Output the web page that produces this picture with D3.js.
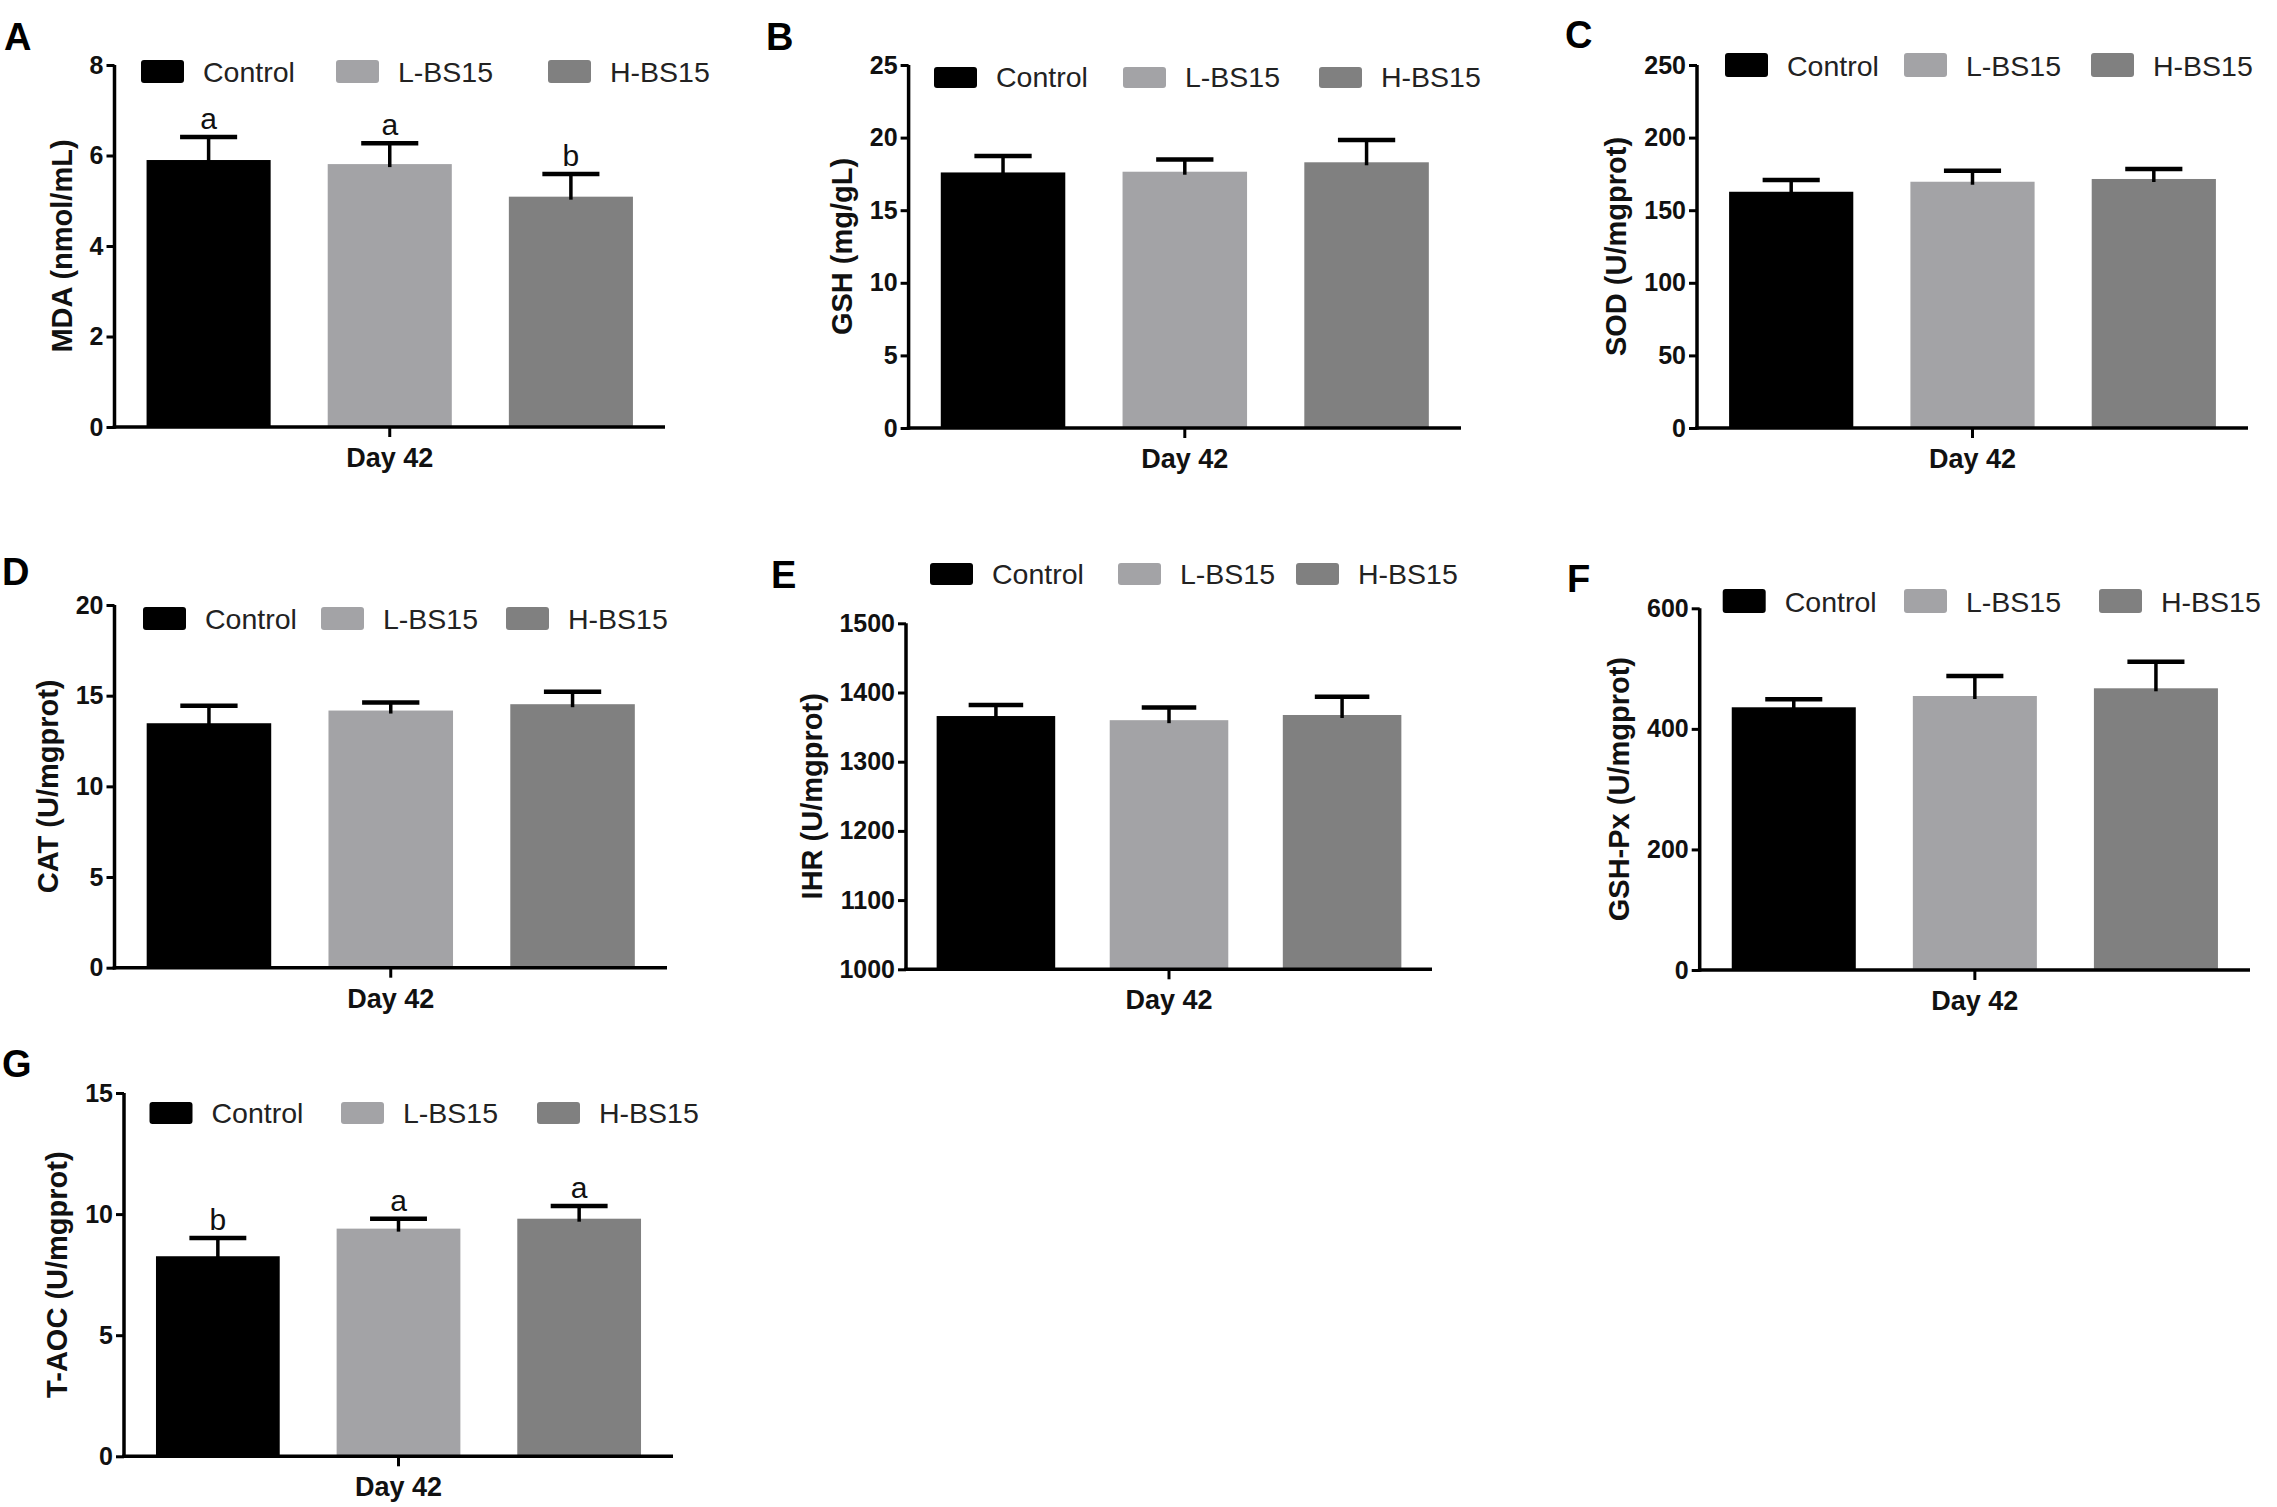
<!DOCTYPE html>
<html>
<head>
<meta charset="utf-8">
<script src="https://cdn.jsdelivr.net/npm/d3@7"></script>
<style>
  body { margin: 0; background: #fff; }
  svg { display: block; font-family: "Liberation Sans", Arial, sans-serif; }
</style>
</head>
<body>
<div id="chart"></div>
<script>
// groups
const groups = ["Control", "L-BS15", "H-BS15"];
const groupColors = ["#000000", "#a3a3a6", "#808080"];
const xLabel = "Day 42";

// A - MDA
const mdaMean = [5.9, 5.81, 5.09];
const mdaErr = [0.51, 0.46, 0.5];
const mdaLetters = ["a", "a", "b"];
const mdaTicks = [0, 2, 4, 6, 8];

// B - GSH
const gshMean = [17.6, 17.65, 18.3];
const gshErr = [1.13, 0.85, 1.53];
const gshTicks = [0, 5, 10, 15, 20, 25];

// C - SOD
const sodMean = [162.7, 169.6, 171.5];
const sodErr = [8.1, 7.6, 6.9];
const sodTicks = [0, 50, 100, 150, 200, 250];

// D - CAT
const catMean = [13.48, 14.18, 14.53];
const catErr = [0.97, 0.44, 0.69];
const catTicks = [0, 5, 10, 15, 20];

// E - IHR
const ihrMean = [1366, 1360, 1367.5];
const ihrErr = [16, 18.5, 26.5];
const ihrTicks = [1000, 1100, 1200, 1300, 1400, 1500];

// F - GSH-Px
const gpxMean = [435.8, 454.5, 467.3];
const gpxErr = [13.2, 33.2, 44.2];
const gpxTicks = [0, 200, 400, 600];

// G - T-AOC
const taocMean = [8.26, 9.4, 9.81];
const taocErr = [0.75, 0.41, 0.52];
const taocLetters = ["b", "a", "a"];
const taocTicks = [0, 5, 10, 15];

const W = 2277, H = 1507;

// panel layout (frame = plot area in px, legend = swatch row)
const panels = [
  { tag: "A", title: "MDA (nmol/mL)", mean: mdaMean, err: mdaErr, letters: mdaLetters, ticks: mdaTicks,
    frame: { x0: 114.5, x1: 665, top: 65, bot: 427 }, legend: { y: 60, h: 23, dx: [26.5, 221.5, 433.5] }, tagPos: [4, 50] },
  { tag: "B", title: "GSH (mg/gL)", mean: gshMean, err: gshErr, ticks: gshTicks,
    frame: { x0: 908.6, x1: 1461, top: 65, bot: 428 }, legend: { y: 67, h: 21, dx: [25.4, 214.4, 410.4] }, tagPos: [766, 50] },
  { tag: "C", title: "SOD (U/mgprot)", mean: sodMean, err: sodErr, ticks: sodTicks,
    frame: { x0: 1697, x1: 2248, top: 65, bot: 428 }, legend: { y: 53, h: 24, dx: [28, 207, 394] }, tagPos: [1565, 48] },
  { tag: "D", title: "CAT (U/mgprot)", mean: catMean, err: catErr, ticks: catTicks,
    frame: { x0: 114.5, x1: 667, top: 605, bot: 967.7 }, legend: { y: 607, h: 23, dx: [28.5, 206.5, 391.5] }, tagPos: [2, 585] },
  { tag: "E", title: "IHR (U/mgprot)", mean: ihrMean, err: ihrErr, ticks: ihrTicks,
    frame: { x0: 906, x1: 1432, top: 623.3, bot: 969.3 }, legend: { y: 563, h: 22, dx: [24, 212, 390] }, tagPos: [771, 588] },
  { tag: "F", title: "GSH-Px (U/mgprot)", mean: gpxMean, err: gpxErr, ticks: gpxTicks,
    frame: { x0: 1699.7, x1: 2250, top: 608.3, bot: 970 }, legend: { y: 589, h: 24, dx: [23, 204.3, 399.3] }, tagPos: [1567, 592] },
  { tag: "G", title: "T-AOC (U/mgprot)", mean: taocMean, err: taocErr, letters: taocLetters, ticks: taocTicks,
    frame: { x0: 124, x1: 673, top: 1093, bot: 1456.3 }, legend: { y: 1102, h: 22, dx: [25.5, 217, 413] }, tagPos: [2, 1077] }
];

const svg = d3.select("#chart").append("svg")
  .attr("width", W)
  .attr("height", H);

svg.append("rect").attr("width", W).attr("height", H).attr("fill", "#fff");

panels.forEach(p => {
  const f = p.frame;
  const g = svg.append("g");

  const x = d3.scaleBand()
    .domain(groups)
    .range([f.x0, f.x1])
    .paddingInner(0.315)
    .paddingOuter(0.177);

  const y = d3.scaleLinear()
    .domain(d3.extent(p.ticks))
    .range([f.bot, f.top]);

  const rows = groups.map((gr, i) => ({ group: gr, mean: p.mean[i], err: p.err[i], color: groupColors[i], letter: p.letters ? p.letters[i] : null }));

  // bars
  g.selectAll("rect.bar")
    .data(rows)
    .enter().append("rect")
    .attr("class", "bar")
    .attr("x", d => x(d.group))
    .attr("y", d => y(d.mean))
    .attr("width", x.bandwidth())
    .attr("height", d => y(y.domain()[0]) - y(d.mean))
    .attr("fill", d => d.color);

  // error bars (upper only)
  const capW = x.bandwidth() * 0.46;
  g.selectAll("line.err")
    .data(rows)
    .enter().append("line")
    .attr("x1", d => x(d.group) + x.bandwidth() / 2)
    .attr("x2", d => x(d.group) + x.bandwidth() / 2)
    .attr("y1", d => y(d.mean) + 3)
    .attr("y2", d => y(d.mean + d.err))
    .attr("stroke", "#000")
    .attr("stroke-width", 3.5);

  g.selectAll("line.cap")
    .data(rows)
    .enter().append("line")
    .attr("x1", d => x(d.group) + x.bandwidth() / 2 - capW / 2)
    .attr("x2", d => x(d.group) + x.bandwidth() / 2 + capW / 2)
    .attr("y1", d => y(d.mean + d.err))
    .attr("y2", d => y(d.mean + d.err))
    .attr("stroke", "#000")
    .attr("stroke-width", 4.5);

  // significance letters
  if (p.letters) {
    g.selectAll("text.sig")
      .data(rows)
      .enter().append("text")
      .attr("x", d => x(d.group) + x.bandwidth() / 2)
      .attr("y", d => y(d.mean + d.err) - 8)
      .attr("text-anchor", "middle")
      .attr("font-size", 30)
      .attr("fill", "#111")
      .text(d => d.letter);
  }

  // y axis
  const yAxis = g.append("g")
    .attr("transform", `translate(${f.x0},0)`)
    .call(d3.axisLeft(y).tickValues(p.ticks).tickSize(8).tickPadding(3).tickFormat(d3.format("d")));
  yAxis.select(".domain").attr("stroke", "#000").attr("stroke-width", 3.5)
    .attr("d", `M0,${f.top}V${f.bot + 1.75}`);
  yAxis.selectAll(".tick line").attr("stroke", "#000").attr("stroke-width", 3);
  yAxis.selectAll(".tick text")
    .attr("font-size", 25)
    .attr("font-weight", "bold")
    .attr("font-family", "'Liberation Sans', Arial, sans-serif")
    .attr("fill", "#111");

  // x axis
  const xMid = (f.x0 + f.x1) / 2;
  g.append("line")
    .attr("x1", f.x0 - 1.75).attr("x2", f.x1)
    .attr("y1", f.bot).attr("y2", f.bot)
    .attr("stroke", "#000").attr("stroke-width", 3.5);
  g.append("line")
    .attr("x1", xMid).attr("x2", xMid)
    .attr("y1", f.bot).attr("y2", f.bot + 10)
    .attr("stroke", "#000").attr("stroke-width", 3);
  g.append("text")
    .attr("x", xMid)
    .attr("y", f.bot + 40)
    .attr("text-anchor", "middle")
    .attr("font-size", 27)
    .attr("font-weight", "bold")
    .attr("fill", "#111")
    .text(xLabel);

  // y title, placed left of tick labels
  const bb = yAxis.node().getBBox();
  g.append("text")
    .attr("transform", `translate(${f.x0 + bb.x - 28},${(f.top + f.bot) / 2}) rotate(-90)`)
    .attr("text-anchor", "middle")
    .attr("dy", "0.35em")
    .attr("font-size", 29)
    .attr("font-weight", "bold")
    .attr("fill", "#111")
    .text(p.title);

  // legend
  const lg = g.append("g");
  const item = lg.selectAll("g.item")
    .data(rows)
    .enter().append("g")
    .attr("transform", (d, i) => `translate(${f.x0 + p.legend.dx[i]},${p.legend.y})`);
  item.append("rect")
    .attr("width", 43)
    .attr("height", p.legend.h)
    .attr("rx", 3)
    .attr("fill", d => d.color);
  item.append("text")
    .attr("x", 62)
    .attr("y", p.legend.h - 1)
    .attr("font-size", 28.5)
    .attr("fill", "#222")
    .text(d => d.group);

  // panel tag
  svg.append("text")
    .attr("x", p.tagPos[0])
    .attr("y", p.tagPos[1])
    .attr("font-size", 38)
    .attr("font-weight", "bold")
    .attr("fill", "#000")
    .text(p.tag);
});
</script>
</body>
</html>
